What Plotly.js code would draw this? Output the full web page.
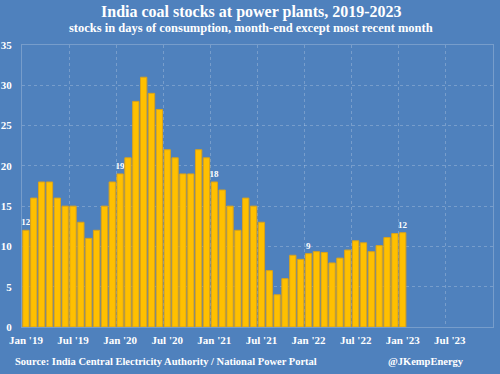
<!DOCTYPE html>
<html>
<head>
<meta charset="utf-8">
<script src="https://cdn.plot.ly/plotly-3.0.1.min.js"></script>
<style>html,body{margin:0;padding:0;background:#4F81BD;}#chart{width:500px;height:374px;}</style>
</head>
<body>
<div id="chart"></div>
<script>
// Months Jan 2019 .. Jan 2023 (index 0 = Jan 2019)
const months = ["Jan 2019","Feb 2019","Mar 2019","Apr 2019","May 2019","Jun 2019","Jul 2019","Aug 2019","Sep 2019","Oct 2019","Nov 2019","Dec 2019",
  "Jan 2020","Feb 2020","Mar 2020","Apr 2020","May 2020","Jun 2020","Jul 2020","Aug 2020","Sep 2020","Oct 2020","Nov 2020","Dec 2020",
  "Jan 2021","Feb 2021","Mar 2021","Apr 2021","May 2021","Jun 2021","Jul 2021","Aug 2021","Sep 2021","Oct 2021","Nov 2021","Dec 2021",
  "Jan 2022","Feb 2022","Mar 2022","Apr 2022","May 2022","Jun 2022","Jul 2022","Aug 2022","Sep 2022","Oct 2022","Nov 2022","Dec 2022",
  "Jan 2023"];
const stockDays = [12,16,18,18,16,15,15,13,11,12,15,18,
  19,21,28,31,29,27,22,21,19,19,22,21,
  18,17,15,12,16,15,13,7,4,6,8.9,8.4,
  9.1,9.35,9.25,7.95,8.55,9.55,10.7,10.45,9.35,10.1,11.1,11.6,
  11.7];
const labelledMonths = ["Jan 2019","Jan 2020","Jan 2021","Jan 2022","Jan 2023"];
const tickPositions = [0,6,12,18,24,30,36,42,48,54];
const tickLabels = ["Jan '19","Jul '19","Jan '20","Jul '20","Jan '21","Jul '21","Jan '22","Jul '22","Jan '23","Jul '23"];

const xIdx = months.map((m,i)=>i);
const barText = months.map((m,i)=> labelledMonths.includes(m) ? String(Math.round(stockDays[i])) : "");

const serif = "Liberation Serif, DejaVu Serif, serif";
const gridCol = "rgba(200,215,235,0.33)";

const trace = {
  type: "bar",
  x: xIdx,
  y: stockDays,
  text: barText,
  textposition: "outside",
  constraintext: "none",
  cliponaxis: false,
  textfont: {family: serif, size: 9, color: "#ffffff", weight: "bold"},
  marker: {color: "#FFC000", line: {color: "#D9A21B", width: 1}},
  hoverinfo: "x+y"
};

const layout = {
  width: 500, height: 374,
  paper_bgcolor: "#4F81BD",
  plot_bgcolor: "#4F81BD",
  margin: {l: 22, r: 7, t: 45, b: 47},
  bargap: 0.2,
  showlegend: false,
  font: {family: serif, color: "#ffffff"},
  xaxis: {
    range: [-0.5, 59.5],
    tickmode: "array",
    tickvals: tickPositions,
    ticktext: tickLabels,
    showgrid: false,
    zeroline: false,
    ticks: "",
    ticklabelstandoff: 3,
    tickfont: {family: serif, size: 11, color: "#ffffff", weight: "bold"},
    showline: true, linecolor: gridCol, linewidth: 1, mirror: true,
    minor: {tick0: -0.5, dtick: 6, showgrid: true, gridcolor: gridCol, griddash: "dot", gridwidth: 1, ticks: ""}
  },
  yaxis: {
    range: [0, 35],
    tickvals: [0,5,10,15,20,25,30,35],
    showgrid: true, gridcolor: gridCol, griddash: "dot", gridwidth: 1,
    zeroline: false,
    ticks: "",
    ticklabelstandoff: 7,
    tickfont: {family: serif, size: 11, color: "#ffffff", weight: "bold"},
    showline: true, linecolor: gridCol, linewidth: 1, mirror: true
  },
  annotations: [
    {text: "<b>India coal stocks at power plants, 2019-2023</b>", xref: "paper", yref: "paper",
     x: 0.487, y: 1.117, xanchor: "center", yanchor: "middle", showarrow: false,
     font: {family: serif, size: 16, color: "#ffffff"}},
    {text: "<b>stocks in days of consumption, month-end except most recent month</b>", xref: "paper", yref: "paper",
     x: 0.487, y: 1.062, xanchor: "center", yanchor: "middle", showarrow: false,
     font: {family: serif, size: 12.5, color: "#ffffff"}},
    {text: "<b>Source: India Central Electricity Authority / National Power Portal</b>", xref: "paper", yref: "paper",
     x: -0.019, y: -0.122, xanchor: "left", yanchor: "middle", showarrow: false,
     font: {family: serif, size: 10.5, color: "#ffffff"}},
    {text: "<b>@JKempEnergy</b>", xref: "paper", yref: "paper",
     x: 0.943, y: -0.122, xanchor: "right", yanchor: "middle", showarrow: false,
     font: {family: serif, size: 10.5, color: "#ffffff"}}
  ]
};

Plotly.newPlot("chart", [trace], layout, {displayModeBar: false, staticPlot: true});
</script>
</body>
</html>
